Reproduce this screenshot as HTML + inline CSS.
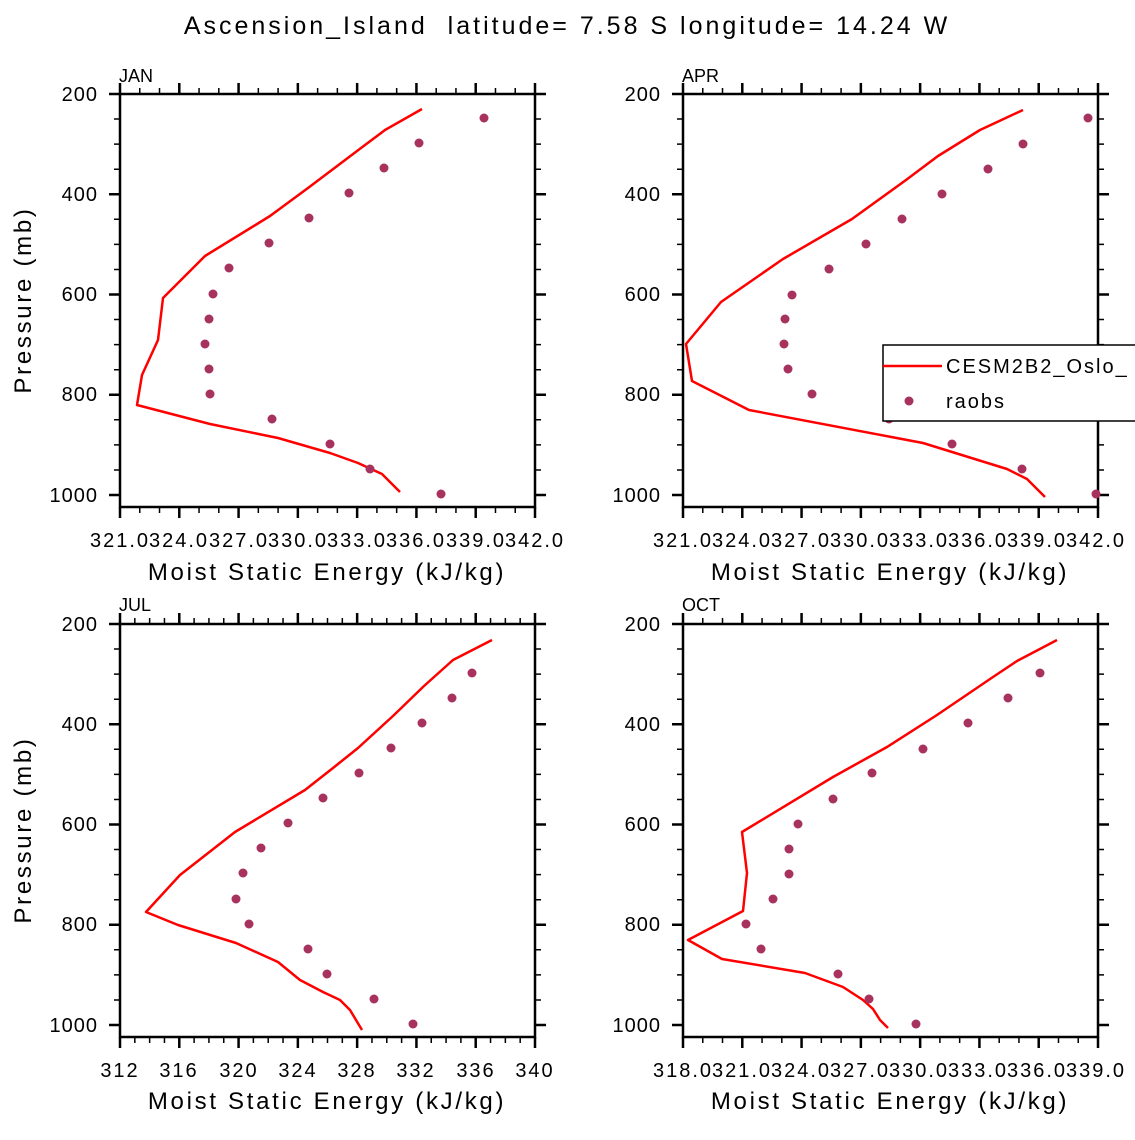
<!DOCTYPE html>
<html><head><meta charset="utf-8"><style>
html,body{margin:0;padding:0;background:#fff;}
svg text{font-family:"Liberation Sans",sans-serif;fill:#000;}
</style></head><body>
<svg width="1135" height="1135" viewBox="0 0 1135 1135" xmlns="http://www.w3.org/2000/svg">
<defs>
<g id="fr">
<rect x="120" y="94" width="415" height="413" fill="none" stroke="#000" stroke-width="2.5"/>
<path d="M109 94H120M109 194.25H120M109 294.5H120M109 394.75H120M109 495H120M535 94H546M535 194.25H546M535 294.5H546M535 394.75H546M535 495H546" stroke="#000" stroke-width="2.5"/>
<path d="M114 119.06H120M114 144.12H120M114 169.19H120M114 219.31H120M114 244.37H120M114 269.44H120M114 319.56H120M114 344.62H120M114 369.69H120M114 419.81H120M114 444.87H120M114 469.94H120M535 119.06H541M535 144.12H541M535 169.19H541M535 219.31H541M535 244.37H541M535 269.44H541M535 319.56H541M535 344.62H541M535 369.69H541M535 419.81H541M535 444.87H541M535 469.94H541" stroke="#000" stroke-width="1.5"/>
<path d="M120 507V518M179.29 507V518M238.57 507V518M297.86 507V518M357.14 507V518M416.43 507V518M475.71 507V518M535 507V518M120 83V94M179.29 83V94M238.57 83V94M297.86 83V94M357.14 83V94M416.43 83V94M475.71 83V94M535 83V94" stroke="#000" stroke-width="2.5"/>
</g>
<path id="mx21" d="M139.76 507V513M159.52 507V513M199.05 507V513M218.81 507V513M258.33 507V513M278.1 507V513M317.62 507V513M337.38 507V513M376.9 507V513M396.67 507V513M436.19 507V513M455.95 507V513M495.48 507V513M515.24 507V513M139.76 88V94M159.52 88V94M199.05 88V94M218.81 88V94M258.33 88V94M278.1 88V94M317.62 88V94M337.38 88V94M376.9 88V94M396.67 88V94M436.19 88V94M455.95 88V94M495.48 88V94M515.24 88V94" stroke="#000" stroke-width="1.5"/>
<path id="mx28" d="M134.82 507V513M149.64 507V513M164.46 507V513M194.11 507V513M208.93 507V513M223.75 507V513M253.39 507V513M268.21 507V513M283.04 507V513M312.68 507V513M327.5 507V513M342.32 507V513M371.96 507V513M386.79 507V513M401.61 507V513M431.25 507V513M446.07 507V513M460.89 507V513M490.54 507V513M505.36 507V513M520.18 507V513M134.82 88V94M149.64 88V94M164.46 88V94M194.11 88V94M208.93 88V94M223.75 88V94M253.39 88V94M268.21 88V94M283.04 88V94M312.68 88V94M327.5 88V94M342.32 88V94M371.96 88V94M386.79 88V94M401.61 88V94M431.25 88V94M446.07 88V94M460.89 88V94M490.54 88V94M505.36 88V94M520.18 88V94" stroke="#000" stroke-width="1.5"/>
</defs>
<rect width="1135" height="1135" fill="#fff"/>
<text x="567" y="34" font-size="25" text-anchor="middle" letter-spacing="3" xml:space="preserve">Ascension_Island  latitude= 7.58 S longitude= 14.24 W</text>
<g font-size="18"><text x="119" y="82">JAN</text><text x="682" y="82">APR</text><text x="119" y="611">JUL</text><text x="682" y="611">OCT</text></g>

<use href="#fr"/><use href="#mx21"/>
<g transform="translate(563,0)"><use href="#fr"/><use href="#mx21"/></g>
<g transform="translate(0,530)"><use href="#fr"/><use href="#mx28"/></g>
<g transform="translate(563,530)"><use href="#fr"/><use href="#mx21"/></g>

<g font-size="20" text-anchor="end" letter-spacing="1">
<text x="98" y="101">200</text><text x="98" y="201">400</text><text x="98" y="301">600</text><text x="98" y="401">800</text><text x="98" y="502">1000</text>
<text x="661" y="101">200</text><text x="661" y="201">400</text><text x="661" y="301">600</text><text x="661" y="401">800</text><text x="661" y="502">1000</text>
<text x="98" y="631">200</text><text x="98" y="731">400</text><text x="98" y="831">600</text><text x="98" y="931">800</text><text x="98" y="1032">1000</text>
<text x="661" y="631">200</text><text x="661" y="731">400</text><text x="661" y="831">600</text><text x="661" y="931">800</text><text x="661" y="1032">1000</text>
</g>
<g font-size="20" text-anchor="middle" letter-spacing="2">
<text x="120" y="547">321.0</text><text x="179" y="547">324.0</text><text x="239" y="547">327.0</text><text x="298" y="547">330.0</text><text x="357" y="547">333.0</text><text x="416" y="547">336.0</text><text x="476" y="547">339.0</text><text x="535" y="547">342.0</text>
<text x="683" y="547">321.0</text><text x="742" y="547">324.0</text><text x="801" y="547">327.0</text><text x="860" y="547">330.0</text><text x="919" y="547">333.0</text><text x="978" y="547">336.0</text><text x="1037" y="547">339.0</text><text x="1096" y="547">342.0</text>
<text x="120" y="1077">312</text><text x="179" y="1077">316</text><text x="239" y="1077">320</text><text x="298" y="1077">324</text><text x="357" y="1077">328</text><text x="416" y="1077">332</text><text x="476" y="1077">336</text><text x="535" y="1077">340</text>
<text x="683" y="1077">318.0</text><text x="742" y="1077">321.0</text><text x="801" y="1077">324.0</text><text x="860" y="1077">327.0</text><text x="919" y="1077">330.0</text><text x="978" y="1077">333.0</text><text x="1037" y="1077">336.0</text><text x="1096" y="1077">339.0</text>
</g>
<g font-size="24" text-anchor="middle" letter-spacing="2.7">
<text x="327" y="580">Moist Static Energy (kJ/kg)</text><text x="890" y="580">Moist Static Energy (kJ/kg)</text>
<text x="327" y="1109">Moist Static Energy (kJ/kg)</text><text x="890" y="1109">Moist Static Energy (kJ/kg)</text>
<text transform="translate(31,300) rotate(-90)">Pressure (mb)</text>
<text transform="translate(31,830) rotate(-90)">Pressure (mb)</text>
</g>

<g fill="none" stroke="#f00" stroke-width="2.5" stroke-linejoin="round">
<polyline points="422,109 385,130 365,145 308,188 270,216 205,256 163,298 158,340 142,375 137,405 210,424 278,438 330,453 358,463 382,474 400,492"/>
<polyline points="1023,110 980,130 938,156 906,180 852,219 783,259 721,302 686,344 692,381 749,410 923,443 1007,469 1027,479 1045,497"/>
<polyline points="492,640 453,660 424,686 393,716 358,748 333,768 305,790 235,832 180,875 146,912 178,925 236,943 278,962 300,980 323,992 340,1000 350,1010 356,1020 362,1030"/>
<polyline points="1057,640 1017,661 993,677 937,715 887,747 833,777 742,832 747,873 743,911 688,940 722,959 805,973 843,987 863,1000 873,1009 880,1020 888,1028"/>
</g>
<g fill="#a8325e">
<circle cx="484" cy="118" r="4.5"/><circle cx="419" cy="143" r="4.5"/><circle cx="384" cy="168" r="4.5"/><circle cx="349" cy="193" r="4.5"/><circle cx="309" cy="218" r="4.5"/><circle cx="269" cy="243" r="4.5"/><circle cx="229" cy="268" r="4.5"/><circle cx="213" cy="294" r="4.5"/><circle cx="209" cy="319" r="4.5"/><circle cx="205" cy="344" r="4.5"/><circle cx="209" cy="369" r="4.5"/><circle cx="210" cy="394" r="4.5"/><circle cx="272" cy="419" r="4.5"/><circle cx="330" cy="444" r="4.5"/><circle cx="370" cy="469" r="4.5"/><circle cx="441" cy="494" r="4.5"/>
<circle cx="1088" cy="118" r="4.5"/><circle cx="1023" cy="144" r="4.5"/><circle cx="988" cy="169" r="4.5"/><circle cx="942" cy="194" r="4.5"/><circle cx="902" cy="219" r="4.5"/><circle cx="866" cy="244" r="4.5"/><circle cx="829" cy="269" r="4.5"/><circle cx="792" cy="295" r="4.5"/><circle cx="785" cy="319" r="4.5"/><circle cx="784" cy="344" r="4.5"/><circle cx="788" cy="369" r="4.5"/><circle cx="812" cy="394" r="4.5"/><circle cx="889" cy="419" r="4.5"/><circle cx="952" cy="444" r="4.5"/><circle cx="1022" cy="469" r="4.5"/><circle cx="1096" cy="494" r="4.5"/>
<circle cx="472" cy="673" r="4.5"/><circle cx="452" cy="698" r="4.5"/><circle cx="422" cy="723" r="4.5"/><circle cx="391" cy="748" r="4.5"/><circle cx="359" cy="773" r="4.5"/><circle cx="323" cy="798" r="4.5"/><circle cx="288" cy="823" r="4.5"/><circle cx="261" cy="848" r="4.5"/><circle cx="243" cy="873" r="4.5"/><circle cx="236" cy="899" r="4.5"/><circle cx="249" cy="924" r="4.5"/><circle cx="308" cy="949" r="4.5"/><circle cx="327" cy="974" r="4.5"/><circle cx="374" cy="999" r="4.5"/><circle cx="413" cy="1024" r="4.5"/>
<circle cx="1040" cy="673" r="4.5"/><circle cx="1008" cy="698" r="4.5"/><circle cx="968" cy="723" r="4.5"/><circle cx="923" cy="749" r="4.5"/><circle cx="872" cy="773" r="4.5"/><circle cx="833" cy="799" r="4.5"/><circle cx="798" cy="824" r="4.5"/><circle cx="789" cy="849" r="4.5"/><circle cx="789" cy="874" r="4.5"/><circle cx="773" cy="899" r="4.5"/><circle cx="746" cy="924" r="4.5"/><circle cx="761" cy="949" r="4.5"/><circle cx="838" cy="974" r="4.5"/><circle cx="869" cy="999" r="4.5"/><circle cx="916" cy="1024" r="4.5"/>
</g>

<rect x="883" y="345" width="260" height="76" fill="#fff" stroke="#000" stroke-width="1.5"/>
<line x1="883" y1="366" x2="942" y2="366" stroke="#f00" stroke-width="2.5"/>
<circle cx="909" cy="401" r="4.5" fill="#a8325e"/>
<text x="946" y="373" font-size="20" letter-spacing="2">CESM2B2_Oslo_</text>
<text x="946" y="408" font-size="20" letter-spacing="2">raobs</text>
</svg>
</body></html>
